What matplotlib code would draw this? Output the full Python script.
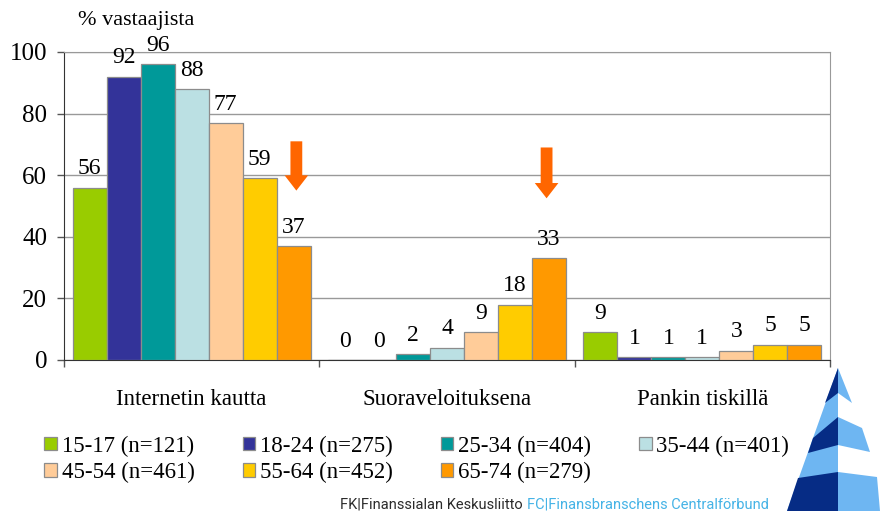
import numpy as np
import matplotlib.pyplot as plt
from matplotlib.patches import Polygon

# Data
categories = ['Internetin kautta', 'Suoraveloituksena', 'Pankin tiskillä']
age_groups = ['15-17 (n=121)', '18-24 (n=275)', '25-34 (n=404)', '35-44 (n=401)',
              '45-54 (n=461)', '55-64 (n=452)', '65-74 (n=279)']
internet = [56, 92, 96, 88, 77, 59, 37]
suoraveloitus = [0, 0, 2, 4, 9, 18, 33]
pankki = [9, 1, 1, 1, 3, 5, 5]
colors = ['#99CC00', '#333399', '#009999', '#BBE0E3', '#FFCC99', '#FFCC00', '#FF9900']
y_ticks = [0, 20, 40, 60, 80, 100]

# arrows: (x in category units, start value, end value)
arrows = [(0.41, 71, 55), (1.39, 69, 52.5)]

W, H = 880, 512
plt.rcParams['font.family'] = ['Liberation Serif', 'DejaVu Serif']

fig = plt.figure(figsize=(W / 100, H / 100), dpi=100)
ax = fig.add_axes([64 / W, 1 - 360 / H, (830 - 64) / W, (360 - 52) / H])

values = np.array([internet, suoraveloitus, pankki])  # groups x series
x = np.arange(len(categories))
bw = 0.133
for i, name in enumerate(age_groups):
    pos = x + (i - 3) * bw
    ax.bar(pos, values[:, i], width=bw, color=colors[i],
           edgecolor='#8c8c8c', linewidth=0.9, label=name, zorder=3)
    for p, v in zip(pos, values[:, i]):
        ax.annotate(str(v), (p, v), xytext=(0, 6), textcoords='offset points',
                    ha='center', va='bottom', fontsize=17)

for ax_x, y0, y1 in arrows:
    ax.annotate('', xy=(ax_x, y1), xytext=(ax_x, y0),
                arrowprops=dict(facecolor='#FF6600', edgecolor='none',
                                width=8.5, headwidth=17, headlength=11, shrink=0))

ax.set_xlim(-0.5, 2.5)
ax.set_ylim(0, 100)
ax.set_yticks(y_ticks)
ax.yaxis.grid(True, color='#999999', linewidth=1, zorder=0)
ax.tick_params(axis='y', length=5, width=1, color='#555555', labelsize=18, pad=7)

ax.set_xticks([-0.5, 0.5, 1.5, 2.5])
ax.set_xticklabels([])
ax.tick_params(axis='x', which='major', length=5, width=1, color='#555555', direction='out')
ax.set_xticks(x, minor=True)
ax.set_xticklabels(categories, minor=True)
ax.tick_params(axis='x', which='minor', length=0, labelsize=16.5, pad=21)

for s in ['left', 'bottom']:
    ax.spines[s].set_color('#333333')
for s in ['right', 'top']:
    ax.spines[s].set_color('#999999')

fig.text(78 / W, 1 - 21 / H, '% vastaajista', fontsize=16, va='center', ha='left')

# legend fills column by column, so reorder to get rows 15-17..35-44 / 45-54..65-74
handles, labels = ax.get_legend_handles_labels()
order = [0, 4, 1, 5, 2, 6, 3]
fig.legend([handles[k] for k in order], [labels[k] for k in order],
           loc='upper left', bbox_to_anchor=(33 / W, 1 - 424 / H),
           ncol=4, frameon=False, fontsize=16.5, handlelength=0.55, handleheight=0.55,
           handletextpad=0.2, columnspacing=2.1, labelspacing=0.22, borderpad=0)

# footer
sans_narrow = ['Liberation Sans Narrow', 'Roboto', 'DejaVu Sans']
fig.text(523 / W, 1 - 504 / H, 'FK|Finanssialan Keskusliitto', fontsize=10.5,
         family=sans_narrow, color='#2b2b2b', ha='right', va='center')
fig.text(527 / W, 1 - 504 / H, 'FC|Finansbranschens Centralförbund', fontsize=10.5,
         family=sans_narrow, color='#45B3E6', ha='left', va='center')

# logo
def px(pts):
    return [(a / W, 1 - b / H) for a, b in pts]

dark, light = '#062C85', '#6EB6F2'
logo = [
    ([(838, 368), (787, 511), (838, 511)], light),
    ([(838, 368), (825, 403), (838, 393)], dark),
    ([(838, 417), (813, 438), (808, 453), (838, 445)], dark),
    ([(838, 472), (798, 478), (787, 511), (838, 511)], dark),
    ([(838, 368), (852, 403), (838, 393)], light),
    ([(838, 417), (862, 428), (870, 452), (838, 445)], light),
    ([(838, 472), (877, 477), (880, 511), (838, 511)], light),
]
for pts, c in logo:
    fig.patches.append(Polygon(px(pts), closed=True, facecolor=c, edgecolor='none',
                               transform=fig.transFigure, figure=fig))

fig.savefig('out.png', dpi=100)
